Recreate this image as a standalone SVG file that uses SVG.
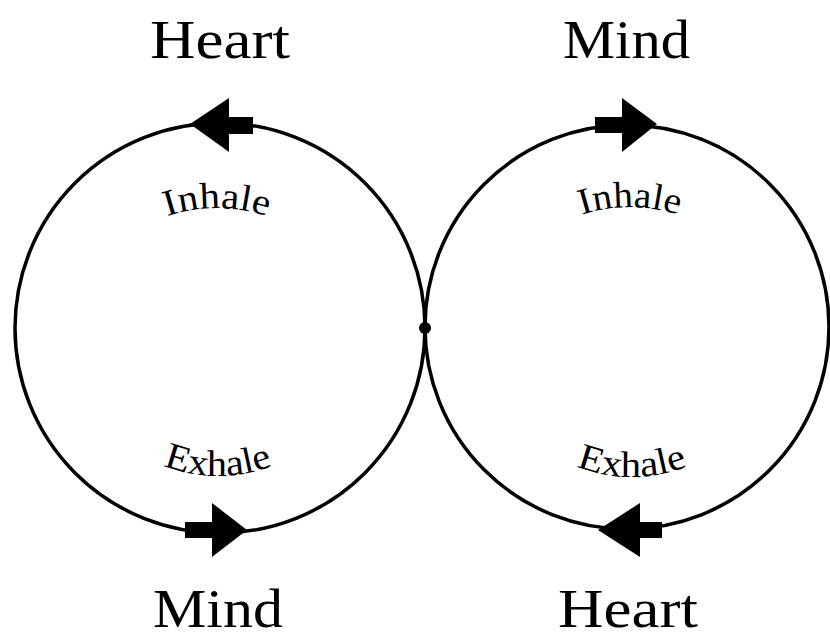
<svg xmlns="http://www.w3.org/2000/svg" width="830" height="639" viewBox="0 0 830 639">
<style>
.loop{fill:none;stroke:#000;stroke-width:3.5}
.title{font-family:"Liberation Serif","DejaVu Serif",serif;font-size:54px;fill:#000}
.lbl{font-family:"Liberation Serif","DejaVu Serif",serif;font-size:37px;fill:#000}
.arr{fill:#000;stroke:none}
</style>
<defs>
<path id="pInL" d="M 97 265 A 155 155 0 0 1 337 265"/>
<path id="pInR" d="M 510 264 A 155 155 0 0 1 750 264"/>
<path id="pExL" d="M 98 416 A 150 150 0 0 0 338 416"/>
<path id="pExR" d="M 512 417 A 150 150 0 0 0 752 417"/>
</defs>
<g id="connectors">
<circle id="loop-left" class="loop" cx="220" cy="328" r="205"/>
<circle id="loop-right" class="loop" cx="627" cy="327" r="202"/>
<g id="arrow-top-left"><rect class="arr" x="227" y="117" width="26" height="17"/><polygon class="arr" points="190,124 229,98 229,152"/></g>
<g id="arrow-top-right"><rect class="arr" x="595" y="117" width="28" height="16"/><polygon class="arr" points="657,124 622,98 622,152"/></g>
<g id="arrow-bottom-left"><rect class="arr" x="185" y="522" width="28" height="16"/><polygon class="arr" points="247,530 212,503 212,557"/></g>
<g id="arrow-bottom-right"><rect class="arr" x="639" y="522" width="23" height="16"/><polygon class="arr" points="598,530 640,503 640,557"/></g>
<circle id="junction" cx="425" cy="328" r="6" fill="#000"/>
</g>
<g id="label-heart-top"><text class="title" x="150" y="58" textLength="140" lengthAdjust="spacingAndGlyphs">Heart</text></g>
<g id="label-mind-top"><text class="title" x="563" y="58" textLength="127" lengthAdjust="spacingAndGlyphs">Mind</text></g>
<g id="label-mind-bottom"><text class="title" x="153" y="627" textLength="130" lengthAdjust="spacingAndGlyphs">Mind</text></g>
<g id="label-heart-bottom"><text class="title" x="558" y="627" textLength="140" lengthAdjust="spacingAndGlyphs">Heart</text></g>
<g id="label-inhale-left"><text class="lbl" text-anchor="middle"><textPath href="#pInL" startOffset="50%" textLength="102" lengthAdjust="spacingAndGlyphs">Inhale</textPath></text></g>
<g id="label-inhale-right"><text class="lbl" text-anchor="middle"><textPath href="#pInR" startOffset="50%" textLength="98" lengthAdjust="spacingAndGlyphs">Inhale</textPath></text></g>
<g id="label-exhale-left"><text class="lbl" text-anchor="middle"><textPath href="#pExL" startOffset="50%" textLength="112" lengthAdjust="spacingAndGlyphs">Exhale</textPath></text></g>
<g id="label-exhale-right"><text class="lbl" text-anchor="middle"><textPath href="#pExR" startOffset="50%" textLength="114" lengthAdjust="spacingAndGlyphs">Exhale</textPath></text></g>
</svg>
